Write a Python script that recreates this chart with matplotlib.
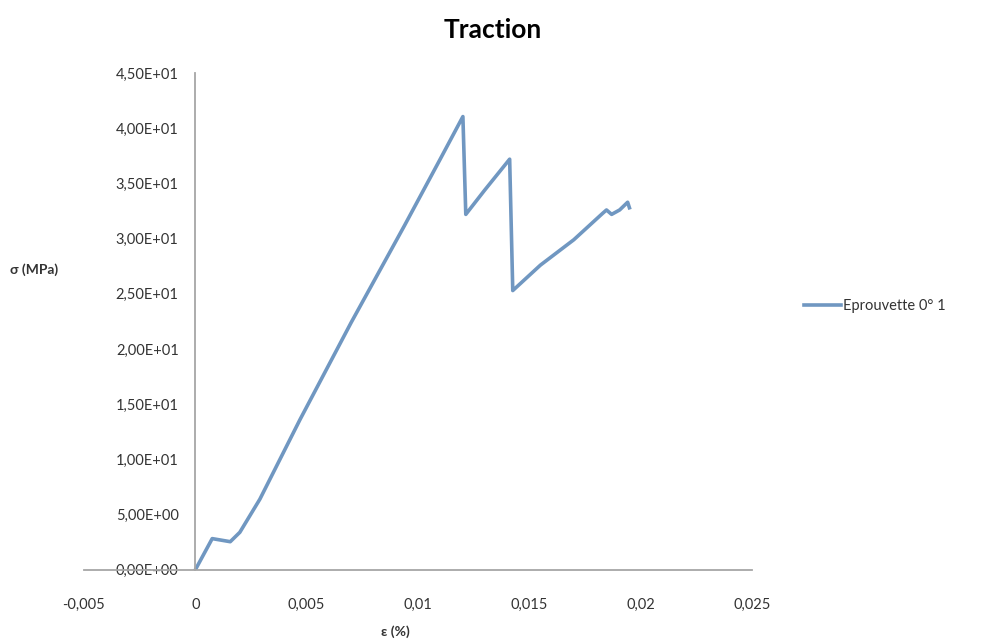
import matplotlib
matplotlib.use("Agg")
import matplotlib.pyplot as plt
from matplotlib.ticker import FuncFormatter

# strain / stress
strain = [0.0, 0.00076, 0.00157, 0.0020, 0.0029, 0.0047, 0.0070, 0.0094, 0.0110, 0.01202,
          0.01215, 0.0130, 0.01412,
          0.01426, 0.0155, 0.0170, 0.0183, 0.01847, 0.0187, 0.01906, 0.01942, 0.0195]
stress = [0.0, 2.83, 2.55, 3.4, 6.4, 13.6, 22.4, 31.2, 37.2, 41.06,
          32.2, 34.4, 37.2,
          25.3, 27.6, 29.9, 32.3, 32.6, 32.2, 32.6, 33.3, 32.8]
series_name = "Eprouvette 0° 1"

xticks = [-0.005, 0, 0.005, 0.01, 0.015, 0.02, 0.025]
yticks = [0, 5, 10, 15, 20, 25, 30, 35, 40, 45]

plt.rcParams['font.family'] = ['Lato', 'DejaVu Sans']

fig = plt.figure(figsize=(9.88, 6.41), dpi=100)
ax = fig.add_axes([0.085, 0.111, 0.676, 0.775])

line_col = '#7097c1'
axis_col = '#a6a6a6'
txt_col = '#333333'

ax.plot(strain, stress, color=line_col, linewidth=2.6, label=series_name,
        solid_joinstyle='round')

ax.set_xlim(-0.005, 0.025)
ax.set_ylim(0, 45)
ax.set_xticks(xticks)
ax.set_yticks(yticks)
ax.xaxis.set_major_formatter(FuncFormatter(lambda v, p: f"{round(v, 4):g}".replace('.', ',')))
ax.yaxis.set_major_formatter(FuncFormatter(lambda v, p: f"{v:.2E}".replace('.', ',')))
ax.tick_params(axis='both', length=0, labelsize=10.5, colors=txt_col)
ax.tick_params(axis='x', pad=20)
ax.tick_params(axis='y', pad=12)

for s in ['top', 'right']:
    ax.spines[s].set_visible(False)
ax.spines['left'].set_position(('data', 0))
ax.spines['left'].set_color(axis_col)
ax.spines['bottom'].set_color(axis_col)
ax.spines['left'].set_linewidth(1.3)
ax.spines['bottom'].set_linewidth(1.3)

fig.text(0.499, 0.953, "Traction", ha='center', va='center', fontsize=19, fontweight='bold')
fig.text(0.010, 0.579, "σ (MPa)", ha='left', va='center', fontsize=10, fontweight='bold', color=txt_col)
fig.text(0.400, 0.014, "ε (%)", ha='center', va='center', fontsize=10, fontweight='bold', color=txt_col)

leg = fig.legend(loc='center left', bbox_to_anchor=(0.800, 0.522), frameon=False,
                 fontsize=10.5, handlelength=2.6, handletextpad=0.1)
for t in leg.get_texts():
    t.set_color(txt_col)

fig.savefig("out.png", dpi=100)
